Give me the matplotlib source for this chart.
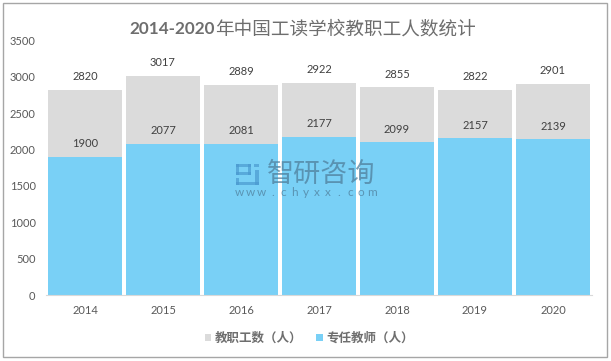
import matplotlib
matplotlib.use('Agg')
import matplotlib.pyplot as plt
from matplotlib.patches import Rectangle
import numpy as np

plt.rcParams['font.family'] = ['Lato', 'Noto Sans CJK SC', 'DejaVu Sans']

years = ['2014', '2015', '2016', '2017', '2018', '2019', '2020']
staff = [2820, 3017, 2889, 2922, 2855, 2822, 2901]
teachers = [1900, 2077, 2081, 2177, 2099, 2157, 2139]
yticks = [0, 500, 1000, 1500, 2000, 2500, 3000, 3500]

W, H = 611, 361
fig = plt.figure(figsize=(W / 100, H / 100), dpi=100)
ax = fig.add_axes([46 / W, 1 - 295 / H, 546 / W, 254.5 / H])

x = np.arange(len(years))
ax.bar(x, staff, width=0.96, color='#dbdbdb', label='教职工数（人）')
ax.bar(x, teachers, width=0.96, color='#79d0f6', label='专任教师（人）')

text_c = '#595959'
for i in x:
    ax.annotate(str(staff[i]), (i, staff[i]), xytext=(0, 5.5), textcoords='offset points',
                ha='center', va='bottom', fontsize=8, color='#404040')
    ax.annotate(str(teachers[i]), (i, teachers[i]), xytext=(0, 5.5), textcoords='offset points',
                ha='center', va='bottom', fontsize=8, color='#404040')

ax.set_xlim(-0.5, 6.5)
ax.set_ylim(0, 3500)
ax.set_xticks(x, years)
ax.set_yticks(yticks)
ax.tick_params(length=0, labelsize=8, labelcolor=text_c)
ax.tick_params(axis='x', pad=7)
ax.tick_params(axis='y', pad=7.5)
for s in ['top', 'left', 'right']:
    ax.spines[s].set_visible(False)
ax.spines['bottom'].set_color('#d9d9d9')

# title: bold digits, lighter chinese part
fig.text(215 / W, 1 - 28.5 / H, '2014-2020', ha='right', va='center',
         fontsize=12.3, fontweight='bold', color='#6e6e6e')
fig.text(215 / W, 1 - 28.5 / H, '年中国工读学校教职工人数统计', ha='left', va='center',
         fontsize=13.4, fontweight='medium', color='#6e6e6e')

# watermark
wm_c = '#4f7f9c'
fig.text(267 / W, 1 - 174 / H, '智研咨询', ha='left', va='center', fontsize=19.5,
         color=wm_c, alpha=0.75)
for i, ch in enumerate('www.chyxx.com'):
    fig.text((239 + i * 11.1) / W, 1 - 193 / H, ch, ha='center', va='center', fontsize=8.5,
             color=wm_c, alpha=0.75)
logo = [(236, 164, 15, 3), (248, 164, 3, 11), (236, 172, 15, 3), (236, 164, 3, 11),
        (236, 178, 3, 7), (236, 182, 23, 3), (254, 164, 5, 3), (255, 170, 4, 15)]
for lx, ly, lw, lh in logo:
    fig.add_artist(Rectangle((lx / W, 1 - (ly + lh) / H), lw / W, lh / H, transform=fig.transFigure,
                             color='#4a9ad0', alpha=0.7, lw=0))

leg = fig.legend(loc='center', bbox_to_anchor=(309.5 / W, 1 - 338 / H), ncol=2, frameon=False,
                 fontsize=9, handlelength=0.5, handleheight=0.5, handletextpad=0.3, columnspacing=1.1,
                 labelcolor='#6e6e6e', borderpad=0)
for t in leg.get_texts():
    t.set_fontweight('bold')

fig.add_artist(Rectangle((2.5 / W, 1 - 357 / H), 604 / W, 354 / H, transform=fig.transFigure,
                         fill=False, edgecolor='#a6a6a6', lw=1))

fig.savefig('out.png', dpi=100)
